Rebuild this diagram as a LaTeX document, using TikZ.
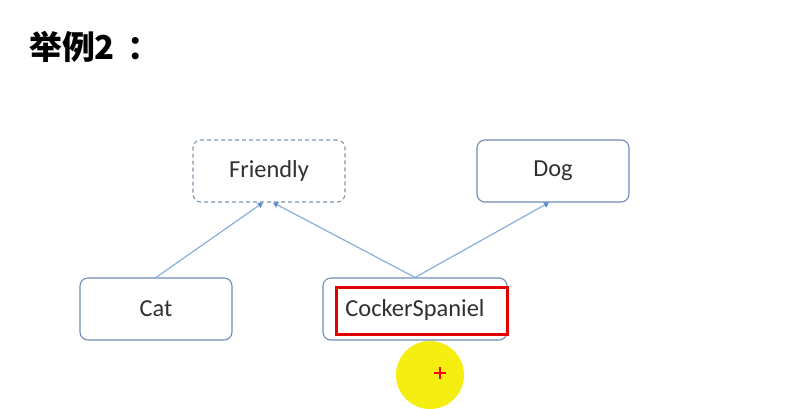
\documentclass[tikz,border=0pt]{standalone}
\usepackage{fontspec}
\setmainfont{Carlito}
\newfontfamily\cjk{Noto Sans CJK SC}
\usetikzlibrary{arrows.meta}
\definecolor{boxline}{HTML}{6F8DB5}
\definecolor{dashline}{HTML}{7F95B0}
\definecolor{conn}{HTML}{8AAEDB}
\definecolor{tipc}{HTML}{5B8FD0}
\definecolor{txt}{HTML}{303030}
\definecolor{hilite}{HTML}{F5EE10}
\tikzset{
  classbox/.style={draw=boxline, line width=1.1bp, rounded corners=8bp, minimum width=152bp, minimum height=62bp, inner sep=0pt, text=txt, font=\fontsize{24.5}{28}\selectfont},
  ifacebox/.style={classbox, draw=dashline, dashed, dash pattern=on 4bp off 3bp},
  conn/.style={draw=conn, line width=1.2bp, -{Triangle[width=6bp,length=5bp,fill=tipc,color=tipc]}},
  redframe/.style={draw=red!90!black, line width=3bp, inner sep=0pt},
}
\begin{document}
\begin{tikzpicture}[x=1bp,y=-1bp]
\useasboundingbox (0,0) rectangle (787,408);
\fill[white] (0,0) rectangle (787,408);
\node[anchor=west, font=\cjk\bfseries\fontsize{33}{38}\selectfont, text=black, inner sep=0pt] (title) at (29,47) {举例2\hspace{13bp}：};
\node[ifacebox] (friendly) at (269,171) {Friendly};
\node[classbox] (dog) at (553,171) {Dog};
\node[classbox] (cat) at (156,309) {Cat};
\node[classbox, minimum width=184bp] (spaniel) at (415,309) {};
\node[redframe, minimum width=171bp, minimum height=47bp] (red) at (421.5,310.5) {};
\node[text=txt, font=\fontsize{24.5}{28}\selectfont] (spname) at (415,310) {CockerSpaniel};
\node[circle, fill=hilite, minimum size=68bp, inner sep=0pt] (spot) at (430,375) {};
\draw[red, line width=1.6bp] (434,373) -- (446,373) (440,367) -- (440,379);
\draw[conn] (cat.north) -- ([xshift=-6bp]friendly.south);
\draw[conn] (spaniel.north) -- ([xshift=4bp]friendly.south);
\draw[conn] (spaniel.north) -- ([xshift=-4bp]dog.south);
\end{tikzpicture}
\end{document}
